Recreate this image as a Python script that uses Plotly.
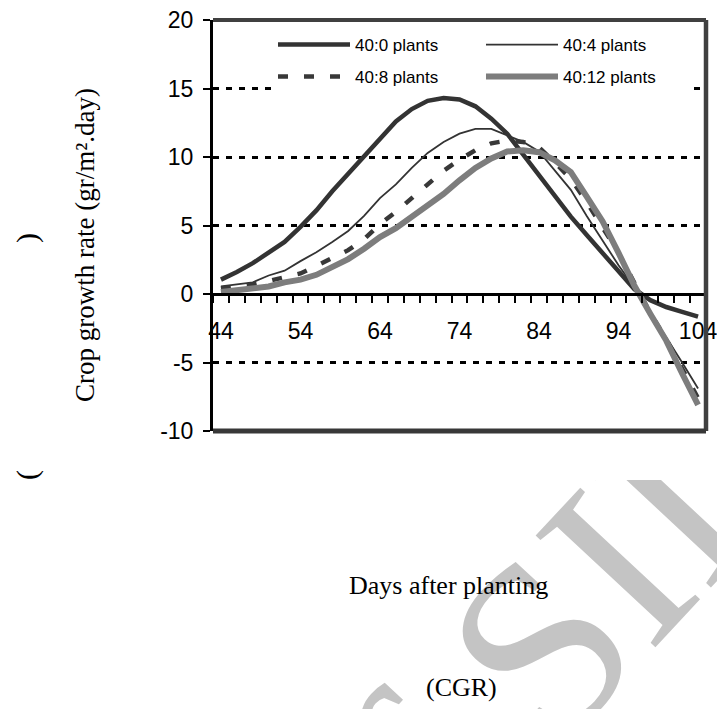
import plotly.graph_objects as go

days = [44, 46, 48, 50, 52, 54, 56, 58, 60, 62, 64, 66, 68, 70, 72, 74,
        76, 78, 80, 82, 84, 86, 88, 90, 92, 94, 96, 98, 100, 102, 104]

cgr_40_0 = [1.05, 1.6, 2.25, 3.0, 3.8, 4.9, 6.1, 7.5, 8.8, 10.1, 11.4, 12.6, 13.5, 14.1, 14.3, 14.2,
            13.7, 12.8, 11.7, 10.2, 8.65, 7.1, 5.65, 4.3, 3.0, 1.7, 0.35, -0.45, -0.95, -1.3, -1.65]
cgr_40_4 = [0.55, 0.7, 0.85, 1.35, 1.7, 2.4, 3.05, 3.8, 4.6, 5.7, 7.0, 8.0, 9.2, 10.3, 11.1, 11.7,
            12.05, 12.05, 11.6, 11.1, 10.4, 9.0, 7.6, 5.7, 3.85, 2.1, 0.5, -1.3, -3.2, -5.0, -6.9]
cgr_40_8 = [0.4, 0.55, 0.7, 0.95, 1.2, 1.5, 2.05, 2.6, 3.2, 4.0, 5.1, 6.0, 7.0, 8.0, 9.0, 9.8,
            10.5, 11.0, 11.2, 11.1, 10.7, 9.6, 8.4, 6.7, 4.9, 3.0, 0.8, -1.4, -3.3, -5.5, -7.6]
cgr_40_12 = [0.15, 0.3, 0.45, 0.55, 0.85, 1.05, 1.4, 1.95, 2.55, 3.3, 4.15, 4.8, 5.6, 6.4, 7.3, 8.3,
             9.2, 9.9, 10.4, 10.5, 10.35, 9.75, 8.9, 7.1, 5.3, 3.0, 0.6, -1.45, -3.4, -5.8, -8.1]

series_names = ["40:0 plants", "40:4 plants", "40:8 plants", "40:12 plants"]

x_tick_vals = [44, 54, 64, 74, 84, 94, 104]
x_tick_text = ["44", "54", "64", "74", "84", "94", "104"]
x_minor_vals = list(range(43, 106, 2))
y_tick_vals = [-10, -5, 0, 5, 10, 15, 20]
y_tick_text = ["-10", "-5", "0", "5", "10", "15", "20"]

SANS = "Liberation Sans, Arial, sans-serif"
SERIF = "Liberation Serif, Times New Roman, serif"

fig = go.Figure()
styles = [
    dict(color="#333333", width=4.5),
    dict(color="#333333", width=1.8),
    dict(color="#383838", width=4.5, dash="10px,16px"),
    dict(color="#7d7d7d", width=6),
]
legend_ids = ["legend", "legend", "legend2", "legend2"]
for name, vals, st, lg in zip(series_names, [cgr_40_0, cgr_40_4, cgr_40_8, cgr_40_12], styles, legend_ids):
    fig.add_trace(go.Scatter(x=days, y=vals, mode="lines", name=name, line=st,
                             legend=lg, hoverinfo="skip"))

legend_common = dict(orientation="h", xanchor="left", yanchor="middle", bgcolor="white",
                     font=dict(family=SANS, size=17, color="black"), itemwidth=72,
                     entrywidth=121, entrywidthmode="pixels", borderwidth=0)

fig.update_layout(
    width=717, height=709,
    margin=dict(l=213, r=11, t=20, b=278, autoexpand=False),
    paper_bgcolor="white", plot_bgcolor="white",
    showlegend=True,
    legend=dict(x=0.1217, y=0.9392, **legend_common),
    legend2=dict(x=0.1217, y=0.8613, **legend_common),
    xaxis=dict(range=[43, 105], anchor="free", position=1/3, automargin=False,
               showline=True, linecolor="black", linewidth=3,
               showgrid=False, zeroline=False, ticklabeloverflow="allow",
               tickmode="array", tickvals=x_tick_vals, ticktext=x_tick_text, ticks="",
               tickfont=dict(family=SANS, size=23, color="black"), ticklabelstandoff=15,
               minor=dict(tickmode="array", tickvals=x_minor_vals, ticks="outside",
                          ticklen=7, tickwidth=2, tickcolor="black", showgrid=False)),
    yaxis=dict(range=[-10, 20], automargin=False, showline=True, linecolor="black", linewidth=3,
               tickmode="array", tickvals=y_tick_vals, ticktext=y_tick_text,
               ticks="outside", ticklen=7, tickwidth=2, tickcolor="black",
               tickfont=dict(family=SANS, size=23, color="black"), ticklabelstandoff=5,
               showgrid=True, gridcolor="black", gridwidth=3, griddash="6px,7px",
               zeroline=False),
    shapes=[
        # light watermark behind the chart (drawn below the plot area)
        dict(type="rect", xref="paper", yref="paper", x0=0.6087, x1=0.6287, y0=-0.4966, y1=-0.4766,
             line=dict(width=0), fillcolor="rgba(0,0,0,0)", layer="below",
             label=dict(text="of SID", textangle=-47, textposition="middle center",
                        font=dict(family=SERIF, size=250, color="#c4c4c4"))),
        dict(type="rect", xref="paper", yref="paper", x0=-0.5, x1=1.1, y0=-0.1192, y1=1.1,
             line=dict(width=0), fillcolor="white", layer="below"),
        # chart frame
        dict(type="line", xref="paper", yref="paper", x0=0, x1=1, y0=1, y1=1,
             line=dict(color="#404040", width=4), layer="above"),
        dict(type="line", xref="paper", yref="paper", x0=1, x1=1, y0=0, y1=1,
             line=dict(color="#404040", width=4.5), layer="above"),
        dict(type="line", xref="paper", yref="paper", x0=0, x1=1, y0=0, y1=0,
             line=dict(color="#383838", width=5), layer="above"),
    ],
    annotations=[
        dict(text="Crop growth rate (gr/m².day)", xref="paper", yref="paper",
             x=-0.2596, y=0.4526, xanchor="center", yanchor="middle", textangle=-90,
             showarrow=False, font=dict(family=SERIF, size=27, color="black")),
        dict(text=")", xref="paper", yref="paper", x=-0.3773, y=0.4696,
             xanchor="center", yanchor="middle", textangle=-90,
             showarrow=False, font=dict(family=SERIF, size=30, color="black")),
        dict(text="(", xref="paper", yref="paper", x=-0.3773, y=-0.107,
             xanchor="center", yanchor="middle", textangle=-90,
             showarrow=False, font=dict(family=SERIF, size=30, color="black")),
        dict(text="Days after planting", xref="paper", yref="paper", x=0.4767, y=-0.377,
             xanchor="center", yanchor="middle",
             showarrow=False, font=dict(family=SERIF, size=26, color="black")),
        dict(text="(CGR)", xref="paper", yref="paper", x=0.505, y=-0.625,
             xanchor="center", yanchor="middle",
             showarrow=False, font=dict(family=SERIF, size=26, color="black")),
    ],
)

fig.write_html("out.html", config={"displayModeBar": False},
               post_script="document.body.style.margin='0px';")
